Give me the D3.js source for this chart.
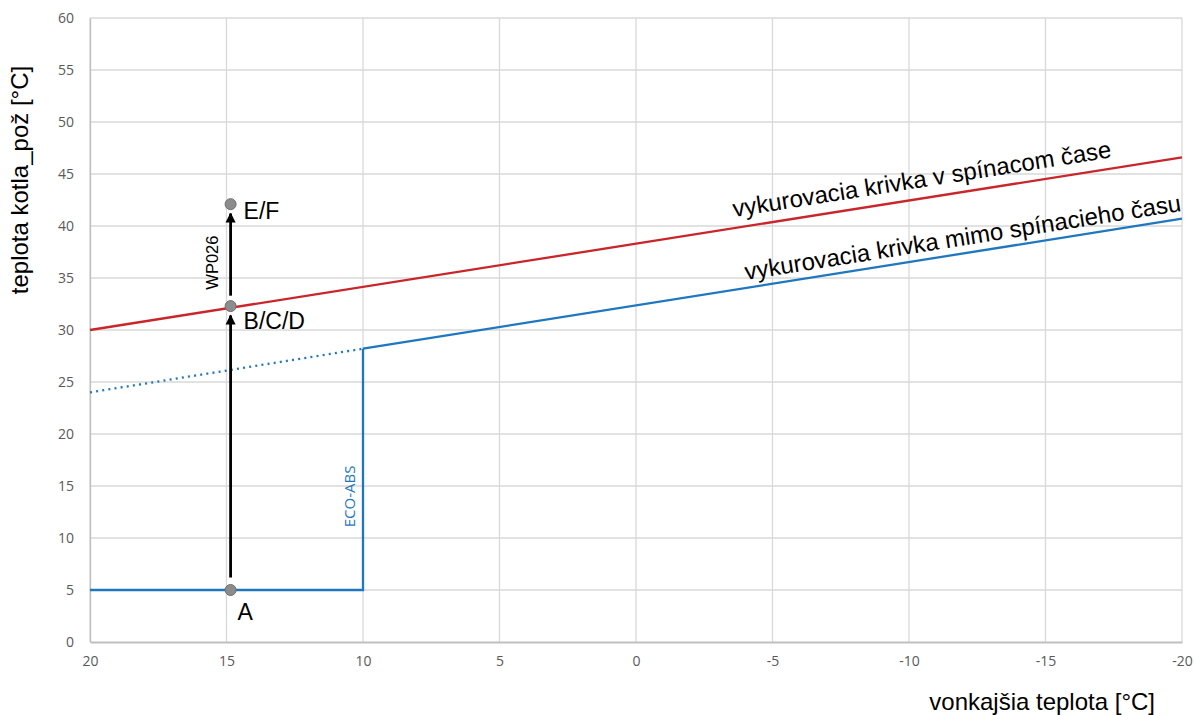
<!DOCTYPE html>
<html><head><meta charset="utf-8">
<script src="https://cdn.jsdelivr.net/npm/d3@7"></script>
<style>body{margin:0;background:#fff}svg{display:block}</style>
</head><body>
<svg id="c" width="1195" height="715"></svg>
<script>
const xTicks = [20,15,10,5,0,-5,-10,-15,-20];
const yTicks = [0,5,10,15,20,25,30,35,40,45,50,55,60];
const redCurve = [[20,30],[-20,46.6]];
const blueSolid = [[10,28.2],[-20,40.7]];
const blueDotted = [[20,24],[10,28.2]];
const ecoStep = [[20,5],[10,5],[10,28.2]];
const points = [{name:"A",x:14.85,y:5},{name:"B/C/D",x:14.85,y:32.3},{name:"E/F",x:14.85,y:42.1}];
const arrows = [{x:14.85,from:6.2,to:31.4,label:""},{x:14.85,from:33.3,to:41.2,label:"WP026"}];

const svg = d3.select("#c");
const x = d3.scaleLinear().domain([20,-20]).range([90,1182]);
const y = d3.scaleLinear().domain([0,60]).range([642,18]);
const FONT = "'Liberation Sans',Arial,sans-serif";

// grid
svg.append("g").selectAll("line").data(yTicks.filter(d=>d>0)).join("line")
 .attr("x1",90).attr("x2",1182).attr("y1",d=>y(d)).attr("y2",d=>y(d))
 .attr("stroke","#d9d9d9").attr("stroke-width",1.3);
svg.append("g").selectAll("line").data(xTicks).join("line")
 .attr("y1",18).attr("y2",642).attr("x1",d=>x(d)).attr("x2",d=>x(d))
 .attr("stroke","#d9d9d9").attr("stroke-width",1.3);

// axes
const fmt = d => String(d).replace("\u2212","-");
const ya = svg.append("g").attr("transform","translate(90,0)")
 .call(d3.axisLeft(y).tickValues(yTicks).tickFormat(fmt).tickSize(0).tickPadding(16));
ya.select(".domain").attr("stroke","#bfbfbf").attr("stroke-width",1.3);
const xa = svg.append("g").attr("transform","translate(0,642)")
 .call(d3.axisBottom(x).tickValues(xTicks).tickFormat(fmt).tickSize(0).tickPadding(14));
xa.select(".domain").attr("stroke","#bfbfbf").attr("stroke-width",2);
svg.selectAll(".tick text").attr("fill","#595959").attr("font-family","'Open Sans',sans-serif").attr("font-size",14);

const line = d3.line().x(d=>x(d[0])).y(d=>y(d[1]));
svg.append("path").attr("d",line(redCurve)).attr("fill","none").attr("stroke","#c9262c").attr("stroke-width",2.3);
svg.append("path").attr("d",line(blueSolid)).attr("fill","none").attr("stroke","#1f77c0").attr("stroke-width",2.3);
svg.append("path").attr("d",line(blueDotted)).attr("fill","none").attr("stroke","#1f77c0").attr("stroke-width",2.3).attr("stroke-dasharray","2,4.2");
svg.append("path").attr("d",line(ecoStep)).attr("fill","none").attr("stroke","#1f77c0").attr("stroke-width",2.3);

// arrows
svg.append("defs").append("marker").attr("id","ah").attr("viewBox","0 0 10 10")
 .attr("refX",9).attr("refY",5).attr("markerWidth",3.6).attr("markerHeight",4.2)
 .attr("markerUnits","strokeWidth").attr("orient","auto")
 .append("path").attr("d","M0,0L10,5L0,10z").attr("fill","#000");
svg.append("g").selectAll("line").data(arrows).join("line")
 .attr("x1",d=>x(d.x)).attr("x2",d=>x(d.x)).attr("y1",d=>y(d.from)).attr("y2",d=>y(d.to))
 .attr("stroke","#000").attr("stroke-width",2.8).attr("marker-end","url(#ah)");
svg.append("g").selectAll("text").data(arrows.filter(d=>d.label)).join("text")
 .attr("transform",d=>`translate(${x(d.x)-13},${y((d.from+d.to)/2)+8}) rotate(-90)`)
 .attr("text-anchor","middle").attr("font-family",FONT).attr("font-size",16.5).attr("fill","#000")
 .text(d=>d.label);

// points
svg.append("g").selectAll("circle").data(points).join("circle")
 .attr("cx",d=>x(d.x)).attr("cy",d=>y(d.y)).attr("r",5.5)
 .attr("fill","#8c8c8c").attr("stroke","#6e6e6e").attr("stroke-width",1);
const lblOff = {"A":[7,30],"B/C/D":[13,23],"E/F":[13,15]};
svg.append("g").selectAll("text").data(points).join("text")
 .attr("x",d=>x(d.x)+lblOff[d.name][0]).attr("y",d=>y(d.y)+lblOff[d.name][1])
 .attr("font-family",FONT).attr("font-size",23).attr("fill","#000")
 .text(d=>d.name);

// ECO-ABS label
svg.append("text").attr("transform",`translate(${x(10)-8},${y(14)}) rotate(-90)`)
 .attr("text-anchor","middle").attr("font-family","'Open Sans',sans-serif").attr("font-size",15).attr("fill","#1f77c0")
 .text("ECO-ABS");

// curve labels
const ang = Math.atan2(y(redCurve[1][1])-y(redCurve[0][1]), x(redCurve[1][0])-x(redCurve[0][0]))*180/Math.PI;
svg.append("text").attr("transform",`translate(734,217) rotate(${ang})`)
 .attr("font-family",FONT).attr("font-size",24).attr("fill","#000")
 .text("vykurovacia krivka v spínacom čase");
const ang2 = Math.atan2(y(blueSolid[1][1])-y(blueSolid[0][1]), x(blueSolid[1][0])-x(blueSolid[0][0]))*180/Math.PI;
svg.append("text").attr("transform",`translate(746,280) rotate(${ang2})`)
 .attr("font-family",FONT).attr("font-size",24).attr("fill","#000")
 .text("vykurovacia krivka mimo spínacieho času");

// axis titles
svg.append("text").attr("transform","translate(28,180) rotate(-90)").attr("text-anchor","middle")
 .attr("font-family",FONT).attr("font-size",24).attr("fill","#000")
 .text("teplota kotla_pož [°C]");
svg.append("text").attr("x",1155).attr("y",710).attr("text-anchor","end")
 .attr("font-family",FONT).attr("font-size",24).attr("fill","#000")
 .text("vonkajšia teplota [°C]");
</script>
</body></html>
